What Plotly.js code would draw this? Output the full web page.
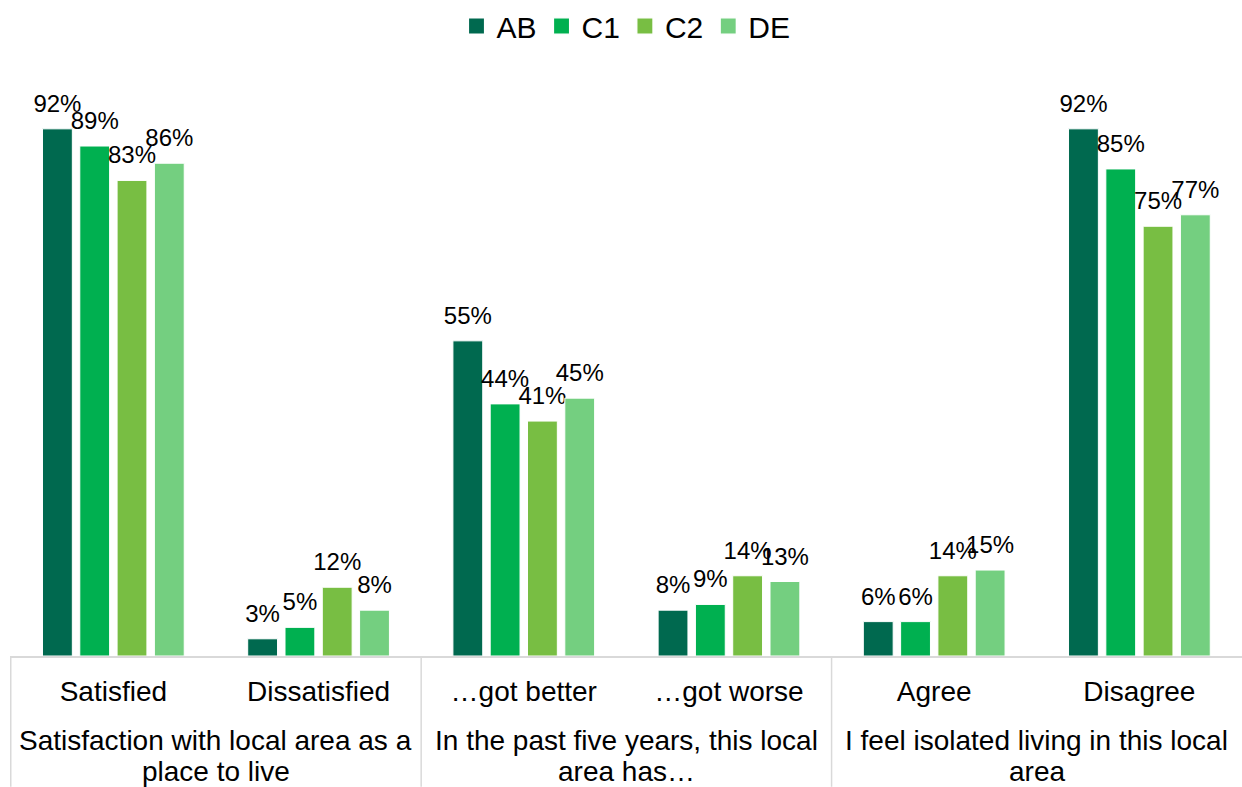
<!DOCTYPE html>
<html>
<head>
<meta charset="utf-8">
<script src="https://cdn.plot.ly/plotly-3.0.1.min.js"></script>
<style>
  html, body { margin: 0; padding: 0; background: #ffffff; }
  #chart { width: 1242px; height: 787px; }
</style>
</head>
<body>
<div id="chart"></div>
<script>
// Sub-categories (first axis level)
const categories = ["Satisfied", "Dissatisfied", "\u2026got better", "\u2026got worse", "Agree", "Disagree"];
// Group labels (second axis level), each spanning two categories; one entry per text line
const groups = [
  ["Satisfaction with local area as a", "place to live"],
  ["In the past five years, this local", "area has\u2026"],
  ["I feel isolated living in this local", "area"]
];
const groupSize = 2;

// Series values (%)
const seriesNames = ["AB", "C1", "C2", "DE"];
const valuesAB = [92, 3, 55, 8, 6, 92];
const valuesC1 = [89, 5, 44, 9, 6, 85];
const valuesC2 = [83, 12, 41, 14, 14, 75];
const valuesDE = [86, 8, 45, 13, 15, 77];
const seriesValues = [valuesAB, valuesC1, valuesC2, valuesDE];
const seriesColors = ["#00694F", "#00B050", "#78BE43", "#74CF80"];

const FONT = "Liberation Sans, Arial, Helvetica, sans-serif";

const traces = seriesNames.map((name, i) => ({
  type: "bar",
  name: name,
  x: categories,
  y: seriesValues[i],
  marker: { color: seriesColors[i], line: { color: "#ffffff", width: 1 } },
  texttemplate: "%{y}%",
  textposition: "outside",
  constraintext: "none",
  cliponaxis: false,
  textfont: { family: FONT, size: 24, color: "#000000" },
  hoverinfo: "skip"
}));

const plotTop = 82, plotBottom = 656, plotH = plotBottom - plotTop;
const pxToPaper = px => -px / plotH;

// Group labels (one annotation per line) and divider lines for the two-level axis
const annotations = [];
groups.forEach((lines, gi) => {
  lines.forEach((line, li) => {
    annotations.push({
      x: gi * groupSize + (groupSize - 1) / 2,
      xref: "x",
      y: pxToPaper(85 + li * 31),
      yref: "paper",
      yanchor: "middle",
      xanchor: "center",
      text: line,
      showarrow: false,
      font: { family: FONT, size: 28, color: "#000000" }
    });
  });
});

const shapes = [];
for (let gi = 0; gi < groups.length; gi++) {
  const xb = gi * groupSize - 0.5;
  shapes.push({
    type: "line", xref: "x", yref: "paper",
    x0: xb, x1: xb, y0: 0, y1: pxToPaper(787 - plotBottom),
    line: { color: "#d9d9d9", width: 1.5 }
  });
}

const layout = {
  width: 1242,
  height: 787,
  margin: { l: 10, r: 0, t: plotTop, b: 787 - plotBottom, pad: 0 },
  paper_bgcolor: "#ffffff",
  plot_bgcolor: "#ffffff",
  font: { family: FONT, color: "#000000" },
  barmode: "group",
  bargap: 0.273,
  bargroupgap: 0.2,
  showlegend: true,
  legend: {
    orientation: "h",
    x: 0.5, xanchor: "center",
    y: 1 + 57 / plotH, yanchor: "middle",
    font: { family: FONT, size: 30, color: "#000000" },
    itemwidth: 30,
    traceorder: "normal"
  },
  xaxis: {
    type: "category",
    showline: true,
    linecolor: "#d9d9d9",
    linewidth: 1.5,
    ticks: "",
    ticklabelstandoff: 10,
    tickfont: { family: FONT, size: 28, color: "#000000" },
    showgrid: false,
    zeroline: false,
    fixedrange: true
  },
  yaxis: {
    range: [0, 100],
    visible: false,
    showgrid: false,
    zeroline: false,
    fixedrange: true
  },
  annotations: annotations,
  shapes: shapes
};

Plotly.newPlot("chart", traces, layout, { displayModeBar: false, staticPlot: true }).then(gd => {
  // lift the outside data labels a little further above the bars, as in the reference
  gd.querySelectorAll("g.barlayer text.bartext").forEach(t => {
    const tr = t.getAttribute("transform") || "";
    t.setAttribute("transform", "translate(0,-9) " + tr);
  });
  // enlarge the legend swatches
  gd.querySelectorAll("g.legend g.legendpoints path").forEach(p => {
    const tr = p.getAttribute("transform") || "";
    p.setAttribute("transform", tr + " scale(1.35)");
  });
});
</script>
</body>
</html>
